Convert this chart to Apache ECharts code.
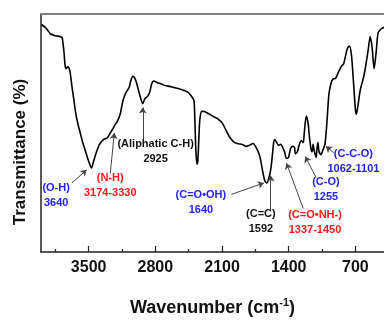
<!DOCTYPE html>
<html>
<head>
<meta charset="utf-8">
<script src="https://cdn.jsdelivr.net/npm/echarts@6/dist/echarts.min.js"></script>
<style>
html, body { margin: 0; padding: 0; background: #fff; }
#chart { width: 384px; height: 322px; }
</style>
</head>
<body>
<div id="chart"></div>
<script>
// FTIR spectrum
const wavenumber = [3995, 3955, 3924, 3903, 3851, 3800, 3779, 3769, 3758, 3748, 3738, 3717, 3696, 3676, 3655, 3634, 3614, 3593, 3562, 3531,
  3500, 3469, 3448, 3417, 3386, 3345, 3304, 3273, 3242, 3221, 3200, 3169, 3138, 3107, 3076, 3056, 3035, 3014, 2994, 2963,
  2932, 2911, 2880, 2859, 2839, 2818, 2766, 2715, 2632, 2529, 2456, 2415, 2394, 2384, 2374, 2363, 2353, 2343, 2332, 2312,
  2291, 2250, 2198, 2147, 2095, 2054, 2022, 1981, 1940, 1888, 1847, 1816, 1774, 1743, 1712, 1692, 1671, 1650, 1630, 1609,
  1588, 1568, 1557, 1547, 1526, 1506, 1485, 1464, 1444, 1423, 1402, 1382, 1361, 1340, 1330, 1309, 1289, 1268, 1247, 1237,
  1216, 1196, 1185, 1165, 1155, 1144, 1134, 1113, 1103, 1093, 1082, 1062, 1041, 1020, 1000, 979, 958, 938, 907, 876,
  845, 824, 803, 783, 762, 741, 721, 700, 690, 669, 648, 617, 597, 566, 545, 524, 504, 483, 462, 431, 400];
const transmittance = [95.6, 94.4, 92.9, 91.7, 90.9, 90.5, 90.1, 87.7, 83.7, 78.6, 77.0, 77.8, 75.8, 69.8, 63.9, 57.9, 54.0, 50.8, 46.0, 42.1,
  38.1, 35.3, 38.1, 42.1, 45.2, 47.2, 48.0, 50.0, 52.0, 53.6, 54.8, 57.9, 63.9, 67.1, 69.0, 72.2, 73.8, 73.0, 70.6, 65.9,
  62.3, 64.3, 65.5, 67.1, 70.6, 71.8, 71.0, 70.2, 69.4, 68.3, 67.1, 65.1, 63.5, 54.0, 42.1, 36.9, 38.9, 48.0, 56.0, 59.1,
  59.1, 58.3, 57.1, 56.0, 54.0, 50.8, 48.4, 46.4, 45.6, 45.2, 44.4, 44.8, 45.6, 44.0, 41.3, 38.1, 33.3, 29.8, 29.0, 31.0,
  34.9, 42.1, 46.4, 47.2, 46.0, 44.8, 45.2, 44.0, 42.1, 39.3, 39.7, 43.3, 44.4, 44.0, 41.3, 42.1, 45.2, 46.8, 46.0, 50.0,
  57.1, 54.0, 49.2, 42.9, 42.1, 45.2, 42.9, 39.7, 43.7, 46.0, 42.1, 40.9, 42.9, 45.2, 54.0, 65.9, 70.6, 72.6, 73.0, 75.8,
  78.2, 79.0, 82.5, 85.7, 86.5, 82.5, 71.8, 59.9, 57.9, 62.7, 68.3, 73.0, 77.0, 84.9, 90.5, 85.7, 77.0, 83.7, 92.1, 93.7, 94.4];

const majorTicks = [3500, 2800, 2100, 1400, 700];
const minorTicks = [3850, 3150, 2450, 1750, 1050];

// band annotations: text, anchor (wavenumber, transmittance), colour
const bandText = ['(O-H)\n3640', '(N-H)\n3174-3330', '(Aliphatic C-H)\n2925', '(C=O\u2022OH)\n1640',
  '(C=C)\n1592', '(C=O\u2022NH-)\n1337-1450', '(C-O)\n1255', '(C-C-O)\n1062-1101'];
const bandWn = [3841, 3273, 2797, 2322, 1692, 1124, 1010, 721];
const bandT = [23.6, 28.0, 42.1, 21.0, 12.9, 12.5, 26.4, 37.9];
const bandColor = ['#1f1fff', '#ff1a1a', '#111111', '#1f1fff', '#111111', '#ff1a1a', '#1f1fff', '#1f1fff'];

// arrows from label to band: [wn0, t0, wn1, t1]
const arrows = [
  [3676, 29.0, 3521, 34.5],
  [3273, 32.9, 3231, 50.0],
  [2932, 47.2, 2932, 60.7],
  [2002, 24.2, 1661, 29.0],
  [1589, 17.5, 1589, 32.1],
  [1248, 18.3, 1423, 37.3],
  [1113, 31.3, 1227, 40.1],
  [927, 41.7, 1010, 44.4],
];

const font = "'Liberation Sans', Arial, sans-serif";
const chart = echarts.init(document.getElementById('chart'));

const spectrum = wavenumber.map((w, i) => [w, transmittance[i]]);

const option = {
  animation: false,
  grid: { left: 41, top: 14, bottom: 56, right: -5, containLabel: false },
  xAxis: [{
    type: 'value',
    inverse: true,
    min: 400,
    max: 4000,
    position: 'bottom',
    axisLine: { lineStyle: { color: '#222', width: 1.5 } },
    axisTick: { inside: true, length: 6, customValues: majorTicks, lineStyle: { color: '#222', width: 1.2 } },
    axisLabel: {
      customValues: majorTicks,
      formatter: v => String(v),
      margin: 8,
      fontFamily: font,
      fontSize: 16,
      fontWeight: 'bold',
      color: '#111',
    },
    splitLine: { show: false },
    name: '{b|Wavenumber (cm}{s|-1}{b|)}',
    nameLocation: 'middle',
    nameGap: 45,
    nameTextStyle: {
      rich: {
        b: { fontFamily: font, fontSize: 18, fontWeight: 'bold', color: '#111', lineHeight: 22 },
        s: { fontFamily: font, fontSize: 11, fontWeight: 'bold', color: '#111', lineHeight: 12, verticalAlign: 'top' },
      },
    },
  }, {
    type: 'value',
    inverse: true,
    min: 400,
    max: 4000,
    position: 'bottom',
    axisLine: { show: false },
    axisTick: { inside: true, length: 3, customValues: minorTicks, lineStyle: { color: '#222', width: 1.2 } },
    axisLabel: { show: false },
    splitLine: { show: false },
  }, {
    type: 'value',
    inverse: true,
    min: 400,
    max: 4000,
    position: 'top',
    axisLine: { lineStyle: { color: '#808080', width: 2 } },
    axisTick: { show: false },
    axisLabel: { show: false },
    splitLine: { show: false },
  }],
  yAxis: {
    type: 'value',
    min: 0,
    max: 100,
    axisLine: { show: true, lineStyle: { color: '#222', width: 1.5 } },
    axisTick: { show: false },
    axisLabel: { show: false },
    splitLine: { show: false },
  },
  graphic: [{
    type: 'text',
    x: 20,
    y: 152,
    rotation: Math.PI / 2,
    style: {
      text: 'Transmittance (%)',
      font: 'bold 17px ' + font,
      fill: '#111',
      textAlign: 'center',
      textVerticalAlign: 'middle',
    },
  }],
  series: [{
    type: 'line',
    data: spectrum,
    showSymbol: false,
    smooth: 0.25,
    clip: true,
    lineStyle: { color: '#000', width: 1.6 },
    markLine: {
      silent: true,
      symbol: ['none', 'arrow'],
      symbolSize: 6,
      label: { show: false },
      lineStyle: { color: '#444', width: 1, type: 'solid' },
      data: arrows.map(a => [{ coord: [a[0], a[1]] }, { coord: [a[2], a[3]] }]),
    },
    markPoint: {
      silent: true,
      symbol: 'circle',
      symbolSize: 0,
      data: bandText.map((t, i) => ({
        coord: [bandWn[i], bandT[i]],
        label: {
          show: true,
          position: 'inside',
          formatter: t,
          color: bandColor[i],
          fontFamily: font,
          fontSize: 11,
          fontWeight: 'bold',
          lineHeight: 15,
        },
      })),
    },
  }],
};

chart.setOption(option);
</script>
</body>
</html>
